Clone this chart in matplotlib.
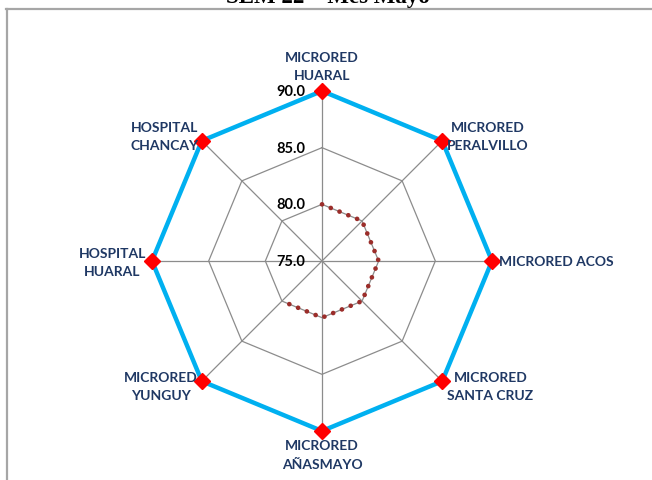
import numpy as np
import matplotlib
matplotlib.use("Agg")
import matplotlib.pyplot as plt
import matplotlib.transforms as mtransforms
from matplotlib.lines import Line2D

categories = ["MICRORED\nHUARAL", "MICRORED\nPERALVILLO", "MICRORED ACOS",
              "MICRORED\nSANTA CRUZ", "MICRORED\nAÑASMAYO", "MICRORED\nYUNGUY",
              "HOSPITAL\nHUARAL", "HOSPITAL\nCHANCAY"]
meta = [90.0, 90.0, 90.0, 90.0, 90.0, 90.0, 90.0, 90.0]
avance = [80.0, 80.0, 80.0, 80.0, 80.0, 80.0, np.nan, np.nan]
ticks = [75.0, 80.0, 85.0, 90.0]
title = "SEM 22 \u2013 Mes Mayo"

W, H = 652, 481
fig = plt.figure(figsize=(W / 100, H / 100), dpi=100)
fig.patch.set_facecolor("white")

cx, cy, R = 322, 262, 170
ax = fig.add_axes([(cx - R) / W, (H - cy - R) / H, 2 * R / W, 2 * R / H], projection="polar")
ax.set_theta_offset(np.pi / 2)
ax.set_theta_direction(-1)
ax.set_ylim(ticks[0], ticks[-1])
ax.set_frame_on(False)
ax.grid(False)
ax.set_xticks([])
ax.set_yticks([])
ax.patch.set_alpha(0)

n = len(categories)
theta = np.arange(n) * 2 * np.pi / n
theta_c = np.append(theta, theta[0])

grid_col = "#8c8c8c"
for t in ticks[1:]:
    ax.plot(theta_c, [t] * (n + 1), color=grid_col, lw=0.9, zorder=1, clip_on=False)
for th in theta:
    ax.plot([th, th], [ticks[0], ticks[-1]], color=grid_col, lw=0.9, zorder=1, clip_on=False)

# blue series
mv = meta + [meta[0]]
ax.plot(theta_c, mv, color="#00B0F0", lw=3.2, zorder=3, clip_on=False)
ax.plot(theta, meta, ls="none", marker="D", ms=8.5, color="#FF0000", mec="#FF0000",
        zorder=4, clip_on=False)

# dotted series
av = avance + [avance[0]]
ax.plot(theta_c, av, color="#9B2D2A", lw=3.4, ls=(0, (0.01, 2.0)),
        dash_capstyle="round", zorder=3, clip_on=False)

# radial tick labels
for t in ticks:
    ax.text(0, t, f"{t:.1f}", transform=ax.transData + mtransforms.ScaledTranslation(-0.17, 0.0, fig.dpi_scale_trans),
            fontsize=10.5, fontweight="bold", family="Lato", ha="right", va="center",
            color="black", zorder=5)

# category labels: (ha, va, dx px, dy px)
place = [("center", "bottom", 0, 10),
         ("left", "center", 5, 5),
         ("left", "center", 7, 0),
         ("left", "center", 5, -5),
         ("center", "top", 0, -8),
         ("right", "center", -4, -5),
         ("right", "center", -6, -1),
         ("right", "center", -3, 5)]
lab_col = "#1F3864"
for th, lab, (ha, va, dx, dy) in zip(theta, categories, place):
    off = mtransforms.ScaledTranslation(dx / 100, dy / 100, fig.dpi_scale_trans)
    ax.text(th, ticks[-1], lab, transform=ax.transData + off, ha=ha, va=va,
            multialignment="center", fontsize=10, fontweight="bold", family="Lato",
            color=lab_col, linespacing=1.65, zorder=5)

# frame (top and left edges visible)
fc = "#A6A6A6"
fig.add_artist(Line2D([6.5 / W, 6.5 / W], [0, 1 - 10 / H], color=fc, lw=1.6, transform=fig.transFigure))
fig.add_artist(Line2D([6 / W, 1], [1 - 10 / H, 1 - 10 / H], color=fc, lw=1.6, transform=fig.transFigure))

fig.text(328 / W, 1 - 3 / H, title, ha="center", va="baseline", fontsize=16.5,
         fontweight="bold", family="Liberation Serif")

fig.savefig("out.png", dpi=100)
